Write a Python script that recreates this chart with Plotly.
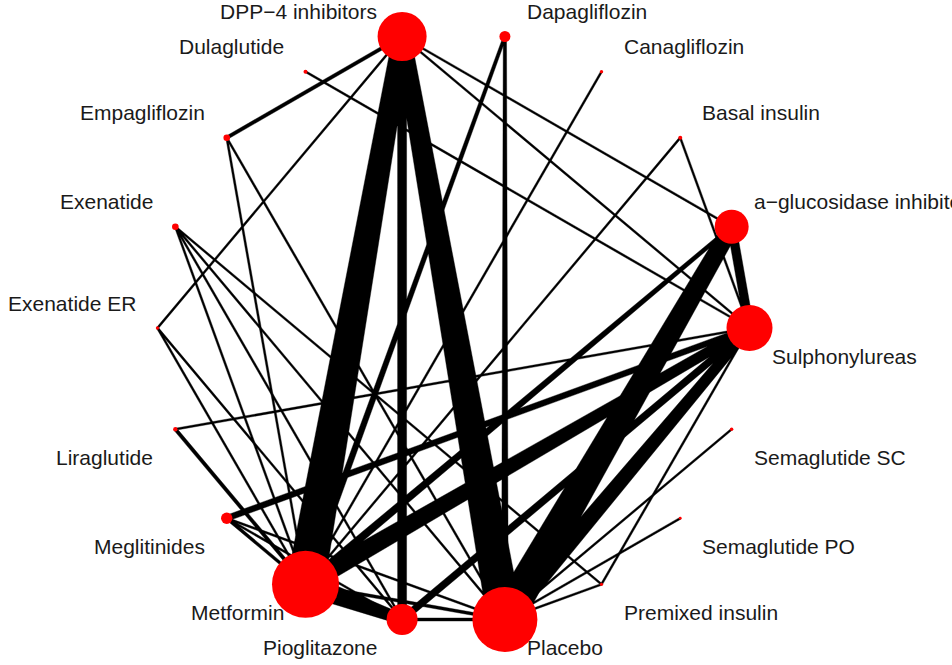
import numpy as np
import plotly.graph_objects as go

# ---------------- data ----------------
treatments = ["a−glucosidase inhibitors", "Basal insulin", "Canagliflozin", "Dapagliflozin",
              "DPP−4 inhibitors", "Dulaglutide", "Empagliflozin", "Exenatide", "Exenatide ER",
              "Liraglutide", "Meglitinides", "Metformin", "Pioglitazone", "Placebo",
              "Premixed insulin", "Semaglutide PO", "Semaglutide SC", "Sulphonylureas"]
# relative node size
node_weight = [17, 2, 1.7, 5.5, 24.5, 2, 3.3, 3.3, 1.7, 2.2, 5.7, 33.5, 15.5, 32.5, 1.6, 1.4, 1.7, 23]

edge_from = ["DPP−4 inhibitors", "DPP−4 inhibitors", "DPP−4 inhibitors", "DPP−4 inhibitors",
             "DPP−4 inhibitors", "DPP−4 inhibitors", "DPP−4 inhibitors",
             "Dapagliflozin", "Dapagliflozin", "Canagliflozin", "Basal insulin", "Basal insulin",
             "Dulaglutide", "Empagliflozin", "Empagliflozin",
             "Exenatide", "Exenatide", "Exenatide", "Exenatide",
             "Exenatide ER", "Exenatide ER", "Liraglutide", "Liraglutide",
             "Meglitinides", "Meglitinides", "Meglitinides", "Meglitinides",
             "Metformin", "Metformin", "Metformin", "Metformin",
             "Pioglitazone", "Pioglitazone",
             "a−glucosidase inhibitors", "a−glucosidase inhibitors",
             "Sulphonylureas", "Premixed insulin", "Premixed insulin",
             "Semaglutide SC", "Semaglutide PO"]
edge_to = ["Metformin", "Placebo", "Pioglitazone", "Empagliflozin",
           "a−glucosidase inhibitors", "Sulphonylureas", "Exenatide ER",
           "Placebo", "Metformin", "Metformin", "Sulphonylureas", "Metformin",
           "Sulphonylureas", "Metformin", "Placebo",
           "Metformin", "Pioglitazone", "Placebo", "Premixed insulin",
           "Metformin", "Pioglitazone", "Sulphonylureas", "Metformin",
           "Sulphonylureas", "Metformin", "Pioglitazone", "Placebo",
           "Sulphonylureas", "a−glucosidase inhibitors", "Pioglitazone", "Placebo",
           "Placebo", "Sulphonylureas",
           "Placebo", "Sulphonylureas",
           "Placebo", "Sulphonylureas", "Placebo",
           "Placebo", "Placebo"]
edge_weight = [28, 26, 9, 3.5,
               2, 2, 2,
               5, 5, 2, 2, 2,
               2, 2, 2,
               2, 2, 2, 2,
               2, 2, 2, 3.5,
               6, 3, 2, 2,
               14, 6, 16, 3,
               3, 7,
               25, 9,
               14, 2, 2,
               2, 2]

# ---------------- layout (circular, pixel-like data units) ----------------
W, H = 952, 665
cx, cy, R = 453.5, 328.0, 296.0
n = len(treatments)
ang = np.deg2rad(20 + 20 * np.arange(n))
px = cx + R * np.cos(ang)
py = cy - R * np.sin(ang)
idx = {t: i for i, t in enumerate(treatments)}
rad = np.array(node_weight, dtype=float)

# edges as (optionally tapered) polygons
ex, ey = [], []
for a, b, w in zip(edge_from, edge_to, edge_weight):
    i, j = idx[a], idx[b]
    pa = np.array([px[i], py[i]]); pb = np.array([px[j], py[j]])
    u = (pb - pa) / np.linalg.norm(pb - pa)
    nv = np.array([-u[1], u[0]])
    wa = wb = w
    if w >= 5 and max(rad[i], rad[j]) >= 30:
        t = 0.35
        if rad[i] > rad[j]:
            wa, wb = w * (1 + t), w * (1 - t)
        else:
            wa, wb = w * (1 - t), w * (1 + t)
    pts = [pa + nv * wa / 2, pb + nv * wb / 2, pb - nv * wb / 2, pa - nv * wa / 2, pa + nv * wa / 2]
    for p in pts:
        ex.append(p[0]); ey.append(p[1])
    ex.append(None); ey.append(None)

fig = go.Figure()
fig.add_trace(go.Scatter(x=ex, y=ey, mode="lines", fill="toself", fillcolor="black",
                         line=dict(color="black", width=0.4), hoverinfo="skip", showlegend=False))
fig.add_trace(go.Scatter(x=px, y=py, mode="markers",
                         marker=dict(color="#ff0000", size=2 * rad, opacity=1, line=dict(width=0)),
                         text=treatments, hoverinfo="text", showlegend=False))

# labels
for i, t in enumerate(treatments):
    c, s = np.cos(ang[i]), np.sin(ang[i])
    if c > 1e-9:
        xa, xanc = px[i] + 20, "left"
    else:
        xa, xanc = px[i] - (23 if abs(c) < 0.2 else 20), "right"
    ya = py[i] - 25 if s > 1e-9 or c < -0.99 else py[i] + 28
    fig.add_annotation(x=xa, y=ya, text=t, showarrow=False, xanchor=xanc, yanchor="middle",
                       font=dict(family="Liberation Sans, Arial, sans-serif", size=21, color="#1a1a1a"))

fig.update_layout(width=W, height=H, margin=dict(l=0, r=0, t=0, b=0),
                  paper_bgcolor="white", plot_bgcolor="white",
                  xaxis=dict(range=[0, W], visible=False, fixedrange=True),
                  yaxis=dict(range=[H, 0], visible=False, fixedrange=True))
fig.write_html("out.html", config={"displayModeBar": False},
               post_script="document.body.style.margin='0px';document.body.style.overflow='hidden';")
